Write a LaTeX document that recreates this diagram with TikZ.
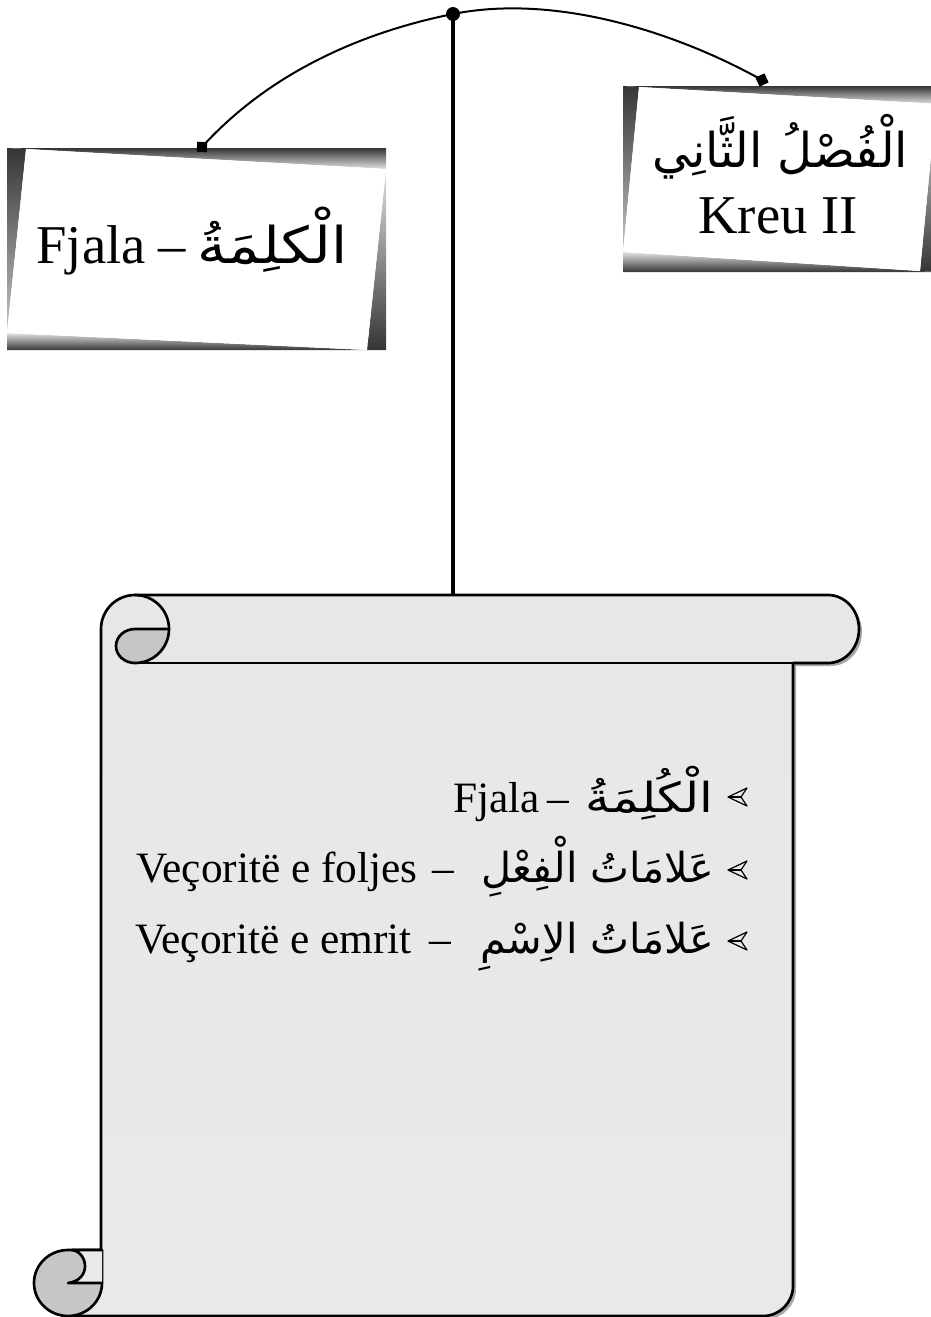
\documentclass[tikz,border=0pt]{standalone}
\usepackage{fontspec}
\setmainfont{Liberation Serif}
\newfontfamily\arabicfont[Script=Arabic]{DejaVu Sans}
\TeXXeTstate=1
\definecolor{frdark}{HTML}{353535}
\definecolor{frlight}{HTML}{E2E2E2}
\definecolor{scrtop}{HTML}{E7E7E7}
\definecolor{scrmid}{HTML}{F3F3F3}
\definecolor{scrbot}{HTML}{E9E9E9}
\definecolor{curlc}{HTML}{C6C6C6}
\definecolor{shadowc}{HTML}{A8A8A8}
\begin{document}
\begin{tikzpicture}[x=0.75pt,y=-0.75pt,line join=round,
  sc/.style={draw=black,line width=2pt},
  arcline/.style={line width=1.5pt},
  vline/.style={line width=2.3pt},
  sq/.style={fill=black,inner sep=0pt,minimum size=7.5pt},
  dotn/.style={circle,fill=black,inner sep=0pt,minimum size=10.5pt},
  latbig/.style={inner sep=0pt,font=\fontsize{41}{45}\selectfont},
  arbigL/.style={inner sep=0pt,font=\fontsize{38}{42}\arabicfont},
  arbigR/.style={inner sep=0pt,font=\fontsize{36}{40}\arabicfont},
  lat/.style={inner sep=0pt,font=\fontsize{32.5}{36}\selectfont},
  ar/.style={inner sep=0pt,font=\fontsize{31}{35}\arabicfont},
  bullet/.style={line width=0.9pt}]
\useasboundingbox (0,0) rectangle (931,1317);

% ---------- left card ----------
\shade[top color=frdark,bottom color=frlight] (7,148) -- (386,148) -- (386,169) -- (26,149) -- cycle;
\shade[top color=frdark,bottom color=frlight!70!gray] (7,148) -- (26,149) -- (7,333) -- cycle;
\shade[top color=frlight,bottom color=frdark] (386,169) -- (386,350) -- (367,350) -- cycle;
\shade[top color=frlight,bottom color=frdark] (7,333) -- (367,350) -- (7,350) -- cycle;
\fill[white] (26,149) -- (386,169) -- (367,350) -- (7,333) -- cycle;
\node[latbig,anchor=base east] (fjL) at (146,263) {Fjala};
\node[latbig,anchor=base] (dashL) at (172,263) {–};
\node[arbigL,anchor=base west] (arL) at (197,263) {\scalebox{1.15}[1]{\beginR الْكلِمَةُ\endR}};

% ---------- right card ----------
\shade[top color=frdark,bottom color=frlight] (623,86) -- (940,86) -- (940,104) -- (639,87) -- cycle;
\shade[top color=frdark,bottom color=frlight!70!gray] (623,86) -- (639,87) -- (623,252) -- cycle;
\shade[top color=frlight,bottom color=frdark] (936,104) -- (940,104) -- (940,272) -- (920,271) -- cycle;
\shade[top color=frlight,bottom color=frdark] (623,252) -- (920,271) -- (940,272) -- (623,272) -- cycle;
\fill[white] (639,87) -- (936,104) -- (920,271) -- (623,252) -- cycle;
\node[arbigR,anchor=base] (arR) at (780,167) {\beginR الْفُصْلُ الثَّانِي\endR};
\node[latbig,anchor=base] (kreu) at (778,233) {Kreu II};

% ---------- hanger ----------
\node[dotn] (top) at (453,14) {};
\node[sq,rotate=-3] (sqL) at (202,147) {};
\node[sq,rotate=25] (sqR) at (762,80) {};
\coordinate (stem) at (453,597);
\draw[vline] (top.center) -- (stem);
\draw[arcline] (sqL.center) .. controls (270,72) and (363,32) .. (top.center)
  .. controls (553,-6) and (672,30) .. (sqR.center);

% ---------- scroll ----------
\def\scrollbody{(101,1283) -- (101,629) arc[start angle=180,end angle=270,radius=34]
  -- (828,595) arc[start angle=-90,end angle=90,x radius=31,y radius=34]
  -- (793,663) -- (793,1286) arc[start angle=0,end angle=90,radius=30]
  -- (68,1316) -- cycle}
\fill[shadowc,shift={(3,3)}] \scrollbody;
\shade[top color=scrtop,middle color=scrmid,bottom color=scrbot] \scrollbody;
\draw[sc] (101,1283) -- (101,629) arc[start angle=180,end angle=270,radius=34]
  -- (828,595) arc[start angle=-90,end angle=90,x radius=31,y radius=34]
  -- (793,663) -- (793,1286) arc[start angle=0,end angle=90,radius=30]
  -- (68,1316);
\draw[sc] (135,663) -- (828,663);
\draw[sc] (135,595) arc[start angle=-90,end angle=0,radius=34];
\filldraw[sc,fill=curlc] (169,629) -- (135,629)
  arc[start angle=-90,end angle=-270,x radius=19,y radius=17]
  arc[start angle=90,end angle=0,radius=34] -- cycle;
\filldraw[sc,fill=curlc] (102,1250) -- (68,1250)
  arc[start angle=-90,end angle=-360,x radius=34,y radius=33] -- cycle;
\filldraw[sc,fill=scrbot] (102,1250) -- (72,1250) .. controls (88,1252) and (92,1280) .. (68,1283) -- (102,1283);

% ---------- list ----------
\foreach \yy in {797,870,941}{
  \draw[bullet] (728,\yy) -- (747,\yy-9) -- (741,\yy) -- (747,\yy+9) -- cycle;
  \draw[bullet] (728,\yy) -- (741,\yy);
}
\node[lat,anchor=base east] (l1lat) at (540,812) {Fjala};
\node[lat,anchor=base] (l1dash) at (558,812) {–};
\node[ar,anchor=base east] (l1ar) at (714,812) {\scalebox{1.2}[1]{\beginR الْكُلِمَةُ\endR}};

\node[lat,anchor=base east] (l2lat) at (418,882) {Veçoritë e foljes};
\node[lat,anchor=base] (l2dash) at (443,882) {–};
\node[ar,anchor=base east] (l2ar) at (714,882) {\beginR عَلامَاتُ الْفِعْلِ\endR};

\node[lat,anchor=base east] (l3lat) at (412,953) {Veçoritë e emrit};
\node[lat,anchor=base] (l3dash) at (440,953) {–};
\node[ar,anchor=base east] (l3ar) at (714,953) {\beginR عَلامَاتُ الاِسْمِ\endR};
\end{tikzpicture}
\end{document}
